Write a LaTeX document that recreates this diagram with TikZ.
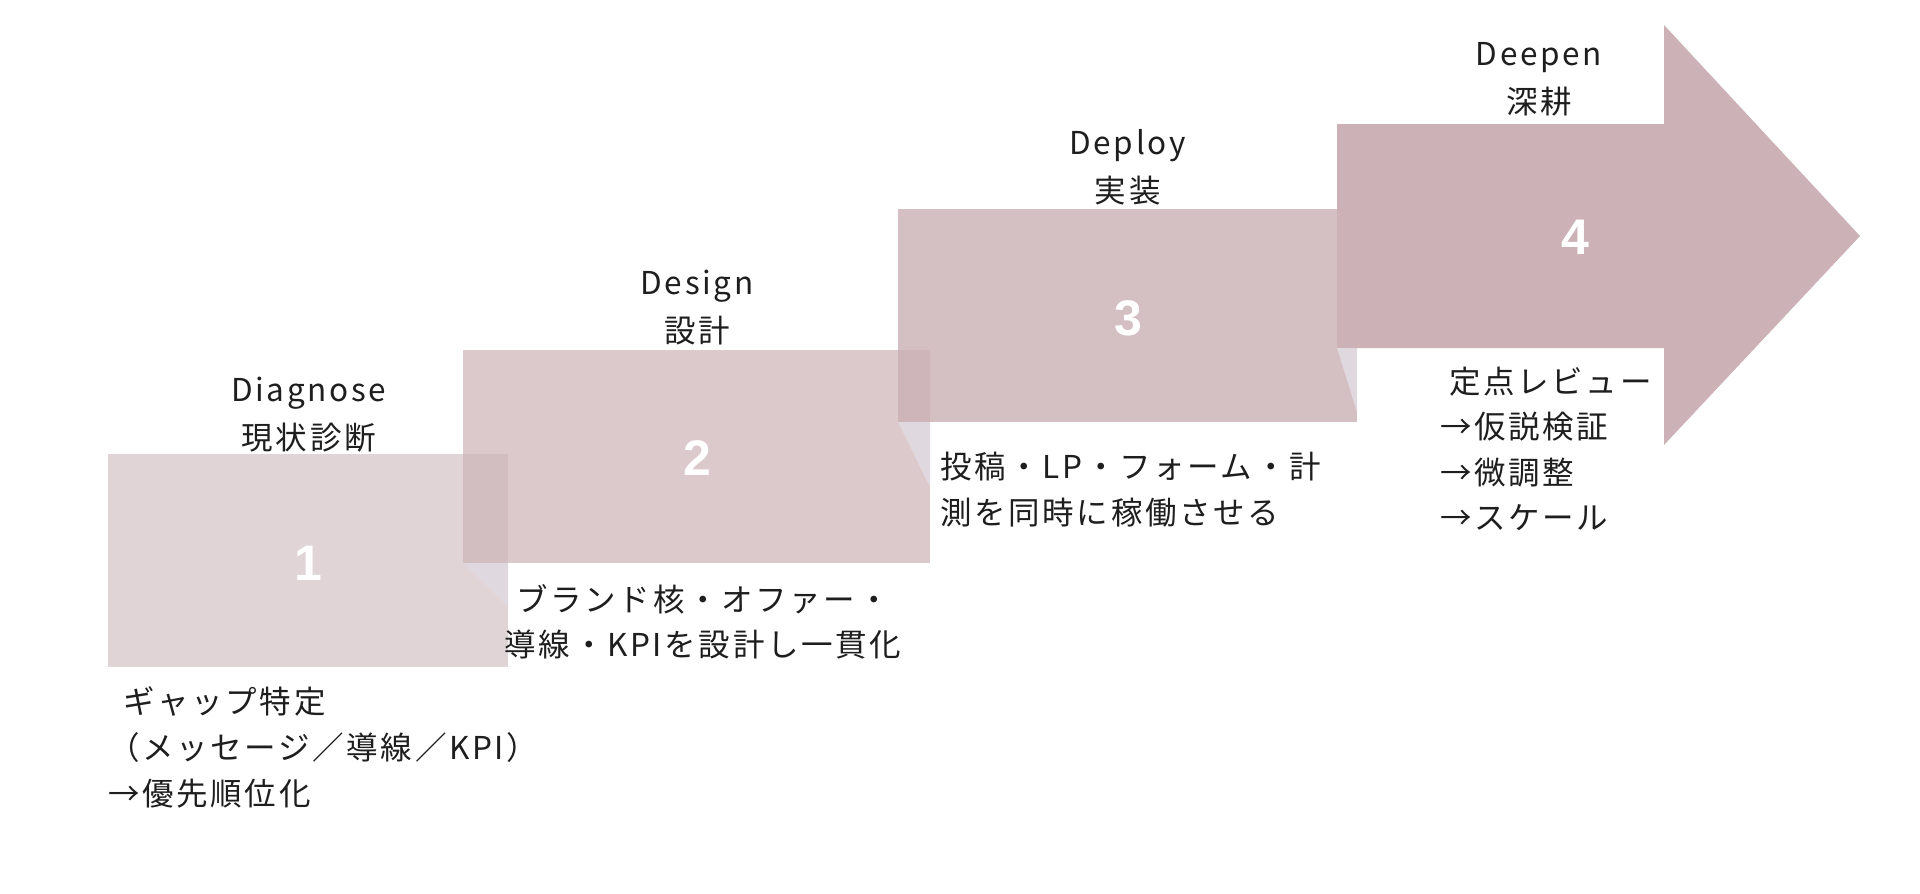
\documentclass[tikz,border=0pt]{standalone}
\usepackage{fontspec}
\newfontfamily\jp[LetterSpace=8.5]{Noto Sans CJK JP}
\newfontfamily\numfont{Liberation Sans}
\definecolor{cA}{HTML}{E0D4D7}
\definecolor{cB}{HTML}{DBC9CC}
\definecolor{cC}{HTML}{D4BFC2}
\definecolor{cD}{HTML}{CCB2B7}
\definecolor{cAB}{HTML}{D2BDC0}
\definecolor{cBC}{HTML}{CDB5B9}
\definecolor{foldc}{HTML}{E0D8DF}
\definecolor{inkc}{HTML}{1E1E1E}
\newcommand{\linesL}[1]{\vtop{\halign{##\hfil\cr#1\crcr}}}
\newcommand{\linesC}[1]{\vtop{\halign{\hfil##\hfil\cr#1\crcr}}}
\tikzset{
  stepbox/.style={rectangle, inner sep=0pt, draw=none, text=white,
    font=\fontsize{50}{50}\numfont\bfseries},
  foldtri/.style={fill=foldc},
  headtxt/.style={inner sep=0pt, anchor=base, text=inkc,
    font=\fontsize{31.5}{48}\jp},
  desctxt/.style={inner sep=0pt, anchor=base west, text=inkc,
    font=\fontsize{31.5}{46}\jp},
}
\begin{document}
\begin{tikzpicture}[x=1pt,y=-1pt]
\useasboundingbox (0,0) rectangle (1920,894);
\fill[white] (0,0) rectangle (1920,894);
% step 1
\node[stepbox, fill=cA, minimum width=400pt, minimum height=213pt] (b1) at (308,560.5) {};
\node[stepbox] (n1) at (308,563.5) {1};
% step 2
\node[stepbox, fill=cB, minimum width=467pt, minimum height=213pt] (b2) at (696.5,456.5) {};
\node[stepbox] (n2) at (697,458.5) {2};
\fill[cAB] (463,454) rectangle (508,563);
\fill[foldtri] (463,563) -- (508,563) -- (508,607) -- cycle;
% step 3
\node[stepbox, fill=cC, minimum width=459pt, minimum height=213pt] (b3) at (1127.5,315.5) {};
\node[stepbox] (n3) at (1128,318.5) {3};
\fill[cBC] (898,350) rectangle (930,422);
\fill[foldtri] (898,422) -- (930,422) -- (930,487) -- cycle;
% step 4 arrow
\fill[cD] (1337,124) -- (1664,124) -- (1664,25) -- (1860,236) -- (1664,445) -- (1664,348) -- (1337,348) -- cycle;
\fill[foldtri] (1337,348) -- (1357,348) -- (1357,412) -- cycle;
\node[stepbox] (n4) at (1575,237) {4};
% headings
\node[headtxt] (h1) at (308.8,401) {\linesC{Diagnose\cr 現状診断}};
\node[headtxt] (h2) at (697,294) {\linesC{Design\cr 設計}};
\node[headtxt] (h3) at (1127.7,154.5) {\linesC{Deploy\cr 実装}};
\node[headtxt] (h4) at (1539,65) {\linesC{Deepen\cr 深耕}};
% descriptions
\node[desctxt] (d1) at (108,713) {\linesL{\hspace*{15pt}ギャップ特定\cr （メッセージ／導線／KPI）\cr →優先順位化}};
\node[inner sep=0pt, anchor=base, text=inkc, font=\fontsize{31.5}{45}\jp] (d2) at (703,611) {\linesC{ブランド核・オファー・\cr 導線・KPIを設計し一貫化}};
\node[desctxt] (d3) at (940,478) {\linesL{投稿・LP・フォーム・計\cr 測を同時に稼働させる}};
\node[desctxt, font=\fontsize{31.5}{45.5}\jp] (d4) at (1440,393) {\linesL{\hspace*{9pt}定点レビュー\cr →仮説検証\cr →微調整\cr →スケール}};
\end{tikzpicture}
\end{document}
